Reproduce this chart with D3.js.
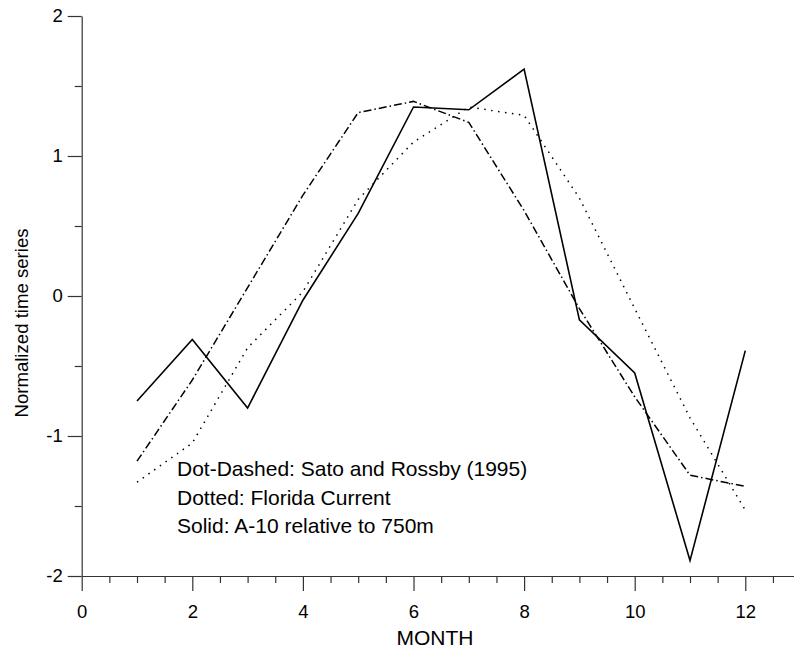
<!DOCTYPE html>
<html>
<head>
<meta charset="utf-8">
<script src="https://cdn.jsdelivr.net/npm/d3@7"></script>
<style>
  body { margin: 0; background: #fff; }
  text { font-family: "Liberation Sans", Arial, sans-serif; fill: #000; }
</style>
</head>
<body>
<div id="chart"></div>
<script>
// data
const months = [1, 2, 3, 4, 5, 6, 7, 8, 9, 10, 11, 12];
const solidA10 = [-0.75, -0.31, -0.80, -0.03, 0.59, 1.35, 1.33, 1.62, -0.17, -0.55, -1.89, -0.39];
const dotDashSato = [-1.18, -0.60, 0.06, 0.72, 1.31, 1.39, 1.24, 0.61, -0.09, -0.72, -1.28, -1.36];
const dottedFlorida = [-1.33, -1.05, -0.37, 0.03, 0.69, 1.10, 1.35, 1.29, 0.70, -0.09, -0.87, -1.53];

const xMajor = [0, 2, 4, 6, 8, 10, 12];
const yMajor = [-2, -1, 0, 1, 2];
const legendLines = [
  "Dot-Dashed: Sato and Rossby (1995)",
  "Dotted: Florida Current",
  "Solid: A-10 relative to 750m"
];

const width = 794, height = 649;

let svg = d3.select("#chart")
  .append("svg")
  .attr("width", width)
  .attr("height", height);

let x = d3.scaleLinear().domain([0, 13]).range([81.7, 81.7 + 13 * 55.3]);
let y = d3.scaleLinear().domain([-2, 2]).range([576, 16]);

let xMinor = d3.range(0, 13.01, 0.5).filter(v => xMajor.indexOf(v) < 0);
let yMinor = d3.range(-2, 2.01, 0.5).filter(v => yMajor.indexOf(v) < 0);

// x axis
let xAxisG = svg.append("g").attr("transform", `translate(0,${y(-2)})`);
xAxisG.call(d3.axisBottom(x).tickValues(xMajor).tickSize(15).tickSizeOuter(0).tickPadding(14)
  .tickFormat(d => String(d)));
xAxisG.append("g").call(d3.axisBottom(x).tickValues(xMinor).tickSize(7).tickSizeOuter(0).tickFormat(""))
  .select(".domain").remove();

// y axis
let yAxisG = svg.append("g").attr("transform", `translate(${x(0)},0)`);
yAxisG.call(d3.axisLeft(y).tickValues(yMajor).tickSize(14).tickSizeOuter(0).tickPadding(5)
  .tickFormat(d => String(d)));
yAxisG.append("g").call(d3.axisLeft(y).tickValues(yMinor).tickSize(7).tickSizeOuter(0).tickFormat(""))
  .select(".domain").remove();

svg.selectAll(".domain, .tick line").attr("stroke", "#333").attr("stroke-width", 1.2);
svg.selectAll(".tick text")
  .attr("font-size", "18.5px")
  .attr("fill", "#000")
  .attr("font-family", "Liberation Sans, Arial, sans-serif");

// axis titles
svg.append("text")
  .attr("x", 435)
  .attr("y", 645)
  .attr("text-anchor", "middle")
  .attr("font-size", "21px")
  .text("MONTH");

svg.append("text")
  .attr("transform", "translate(28,323) rotate(-90)")
  .attr("text-anchor", "middle")
  .attr("font-size", "18.6px")
  .text("Normalized time series");

// series
let line = d3.line()
  .x((d, i) => x(months[i]))
  .y(d => y(d));

svg.append("path")
  .datum(dottedFlorida)
  .attr("fill", "none")
  .attr("stroke", "#000")
  .attr("stroke-width", 1.5)
  .attr("stroke-dasharray", "1.5,5.5")
  .attr("d", line);

svg.append("path")
  .datum(dotDashSato)
  .attr("fill", "none")
  .attr("stroke", "#000")
  .attr("stroke-width", 1.5)
  .attr("stroke-dasharray", "8,3,1.5,3")
  .attr("d", line);

svg.append("path")
  .datum(solidA10)
  .attr("fill", "none")
  .attr("stroke", "#000")
  .attr("stroke-width", 1.6)
  .attr("d", line);

// legend text
svg.append("g")
  .selectAll("text")
  .data(legendLines)
  .enter()
    .append("text")
    .attr("x", 177)
    .attr("y", (d, i) => 476 + i * 28.6)
    .attr("font-size", "21px")
    .text(d => d);
</script>
</body>
</html>
